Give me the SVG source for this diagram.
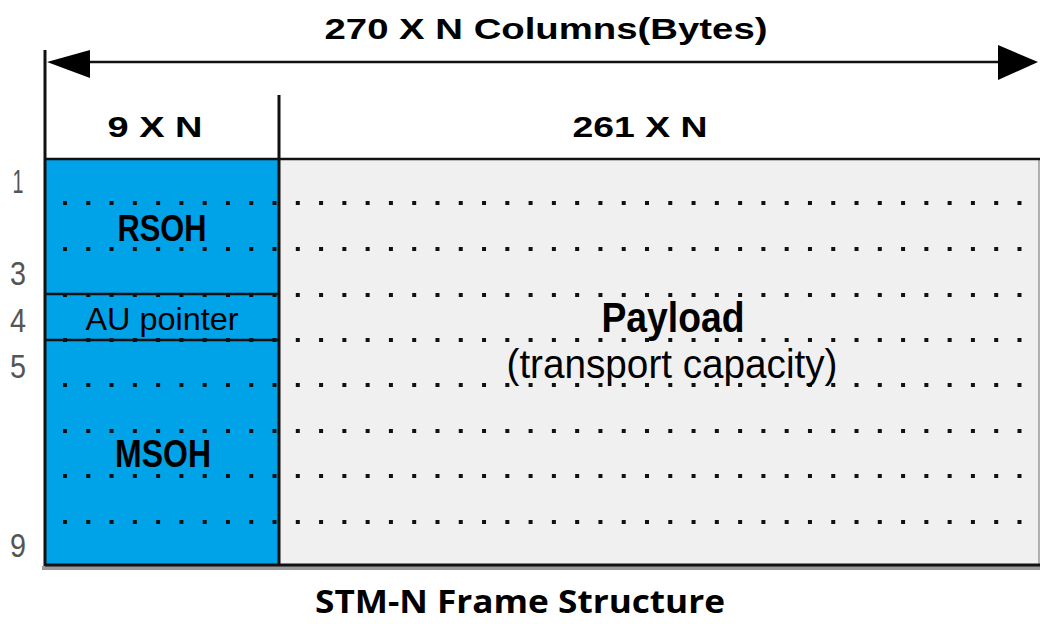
<svg xmlns="http://www.w3.org/2000/svg" width="1040" height="624" viewBox="0 0 1040 624">
<style>
.t{font-family:"Liberation Sans",Arial,sans-serif;fill:#000}
.b{font-weight:bold}
.num{font-family:"Liberation Sans",Arial,sans-serif;fill:#555;font-size:34px}
.ln{stroke:#111;fill:none}
.dots{stroke:#111;stroke-width:4;stroke-dasharray:4 19.28}
</style>
<rect width="1040" height="624" fill="#fff"/>
<g id="payload">
<rect x="279" y="159" width="760" height="407" fill="#f0f0f0" stroke="#999" stroke-width="1.5"/>
</g>
<g id="overhead">
<rect x="45" y="159" width="234" height="407" fill="#00a2e8"/>
</g>
<g id="dots">
<line class="dots" x1="63" y1="203" x2="1040" y2="203"/>
<line class="dots" x1="63" y1="249" x2="1040" y2="249"/>
<line class="dots" x1="63" y1="295" x2="1040" y2="295"/>
<line class="dots" x1="63" y1="340" x2="1040" y2="340"/>
<line class="dots" x1="63" y1="385" x2="1040" y2="385"/>
<line class="dots" x1="63" y1="431" x2="1040" y2="431"/>
<line class="dots" x1="63" y1="476" x2="1040" y2="476"/>
<line class="dots" x1="63" y1="522" x2="1040" y2="522"/>
</g>
<g id="connectors">
<line class="ln" x1="45" y1="50" x2="45" y2="568" stroke-width="3"/>
<line class="ln" x1="279" y1="95" x2="279" y2="566" stroke-width="3"/>
<line class="ln" x1="45" y1="159" x2="1040" y2="159" stroke-width="2.5"/>
<line x1="42" y1="568" x2="1040" y2="568" stroke="#999" stroke-width="4"/>
<line class="ln" x1="45" y1="565" x2="1040" y2="565" stroke-width="3"/>
<line class="ln" x1="45" y1="294" x2="279" y2="294" stroke-width="2.5"/>
<line class="ln" x1="45" y1="340" x2="279" y2="340" stroke-width="2.5"/>
<line class="ln" x1="80" y1="62" x2="1005" y2="62" stroke-width="2.5"/>
<polygon points="47,62 90,50 90,78" fill="#000"/>
<polygon points="1038,62 998,45 998,80" fill="#000"/>
</g>
<g id="labels">
<text class="t b" x="546" y="39" font-size="30" text-anchor="middle" textLength="443" lengthAdjust="spacingAndGlyphs">270 X N Columns(Bytes)</text>
<text class="t b" x="155" y="137" font-size="30" text-anchor="middle" textLength="95" lengthAdjust="spacingAndGlyphs">9 X N</text>
<text class="t b" x="640" y="137" font-size="30" text-anchor="middle" textLength="135" lengthAdjust="spacingAndGlyphs">261 X N</text>
</g>
<g id="rsoh"><text class="t b" x="162" y="241" font-size="37" text-anchor="middle" textLength="89" lengthAdjust="spacingAndGlyphs">RSOH</text></g>
<g id="au"><text class="t" x="162" y="330" font-size="32" text-anchor="middle" textLength="153" lengthAdjust="spacingAndGlyphs">AU pointer</text></g>
<g id="msoh"><text class="t b" x="163" y="467" font-size="38" text-anchor="middle" textLength="96" lengthAdjust="spacingAndGlyphs">MSOH</text></g>
<g id="payload-label">
<text class="t b" x="673" y="332" font-size="42" text-anchor="middle" textLength="143" lengthAdjust="spacingAndGlyphs">Payload</text>
<text class="t" x="672" y="378" font-size="40" text-anchor="middle" textLength="331" lengthAdjust="spacingAndGlyphs">(transport capacity)</text>
</g>
<g id="rows">
<text class="num" x="18" y="193" text-anchor="middle" textLength="11" lengthAdjust="spacingAndGlyphs">1</text>
<text class="num" x="18" y="285" text-anchor="middle" textLength="16" lengthAdjust="spacingAndGlyphs">3</text>
<text class="num" x="18" y="332" text-anchor="middle" textLength="16" lengthAdjust="spacingAndGlyphs">4</text>
<text class="num" x="18" y="378" text-anchor="middle" textLength="16" lengthAdjust="spacingAndGlyphs">5</text>
<text class="num" x="18" y="557" text-anchor="middle" textLength="16" lengthAdjust="spacingAndGlyphs">9</text>
</g>
<g id="caption"><text x="520" y="613" font-family="'Open Sans','Liberation Sans',sans-serif" font-weight="bold" font-size="32" text-anchor="middle" textLength="410" lengthAdjust="spacingAndGlyphs">STM-N Frame Structure</text></g>
</svg>
